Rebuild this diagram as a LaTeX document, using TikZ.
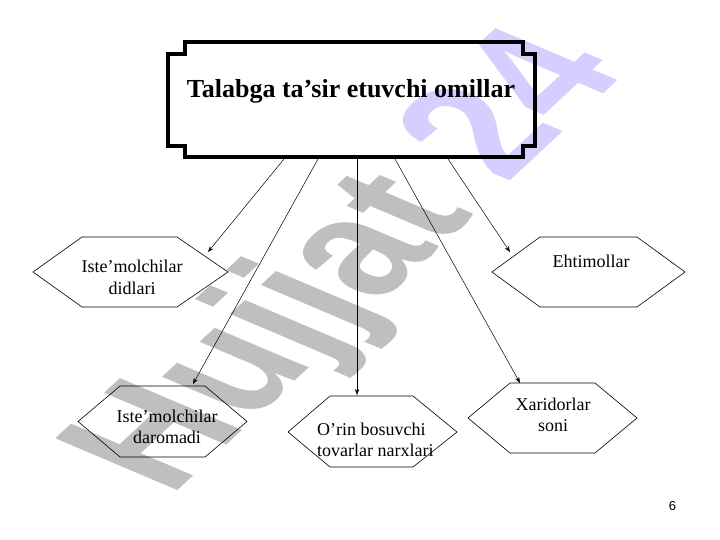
\documentclass[tikz,border=0pt]{standalone}
\usepackage{fontspec}
\setmainfont{Liberation Serif}
\newfontfamily\wmfont{Liberation Sans}
\usetikzlibrary{arrows.meta}
\definecolor{wmgray}{RGB}{191,191,191}
\definecolor{wmlav}{RGB}{214,206,255}
\begin{document}
\begin{tikzpicture}[x=1pt,y=-1pt,
  hexa/.style={draw=black, line width=0.6pt, line join=miter},
  arr/.style={draw=black, line width=0.5pt, -{Stealth[length=6pt,width=4.5pt]}},
  lbl/.style={font=\fontsize{18}{21}\selectfont, align=center, inner sep=0pt, anchor=base},
  plaque/.style={draw=black, line width=3.5pt, line join=miter}]
\useasboundingbox (0,0) rectangle (720,540);
% watermark
\begin{scope}[cm={1.1,1.025,-1.777,0.754,(170pt,-498pt)}]
  \node[transform shape, anchor=base west, inner sep=0pt,
        font=\wmfont\bfseries\fontsize{100}{100}\selectfont] (wm) at (0,0)
        {\textcolor{wmgray}{Hujjat} \textcolor{wmlav}{24}};
\end{scope}
% title plaque
\draw[plaque] (185,42) -- (523,42) -- (523,54) -- (535,54) -- (535,146) -- (523,146)
  -- (523,157) -- (185,157) -- (185,146) -- (168,146) -- (168,54) -- (185,54) -- cycle;
\node[font=\bfseries\fontsize{26}{30}\selectfont, anchor=base, inner sep=0pt] (title) at (351,98)
  {Talabga ta’sir etuvchi omillar};
% hexagons
\draw[hexa] (33,272) -- (82,237) -- (177,237) -- (228,272) -- (177,307) -- (82,307) -- cycle;
\draw[hexa] (492,272) -- (540,237) -- (637,237) -- (685,272) -- (637,307) -- (540,307) -- cycle;
\draw[hexa] (78,421.5) -- (120,386) -- (205,386) -- (247,421.5) -- (205,457) -- (120,457) -- cycle;
\draw[hexa] (288,432) -- (330,396) -- (413,396) -- (457,432) -- (413,467) -- (330,467) -- cycle;
\draw[hexa] (468,418) -- (510,383) -- (595,383) -- (637,418) -- (595,453) -- (510,453) -- cycle;
% labels (base = last line)
\node[lbl] (n1) at (132,294) {Iste’molchilar\\didlari};
\node[lbl] (n2) at (591,267) {Ehtimollar};
\node[lbl] (n3) at (167,443) {Iste’molchilar\\daromadi};
\node[lbl, align=left, anchor=base west] (n4) at (317,456) {O’rin bosuvchi\\tovarlar narxlari};
\node[lbl] (n5) at (553,431) {Xaridorlar\\soni};
\node[font=\wmfont\fontsize{13}{15}\selectfont, anchor=base, inner sep=0pt] (pg) at (672.5,510) {6};
% connectors
\coordinate (s1) at (284,159); \coordinate (e1) at (208,252);
\coordinate (s2) at (318,159); \coordinate (e2) at (193,384);
\coordinate (s3) at (357,159); \coordinate (e3) at (357,395);
\coordinate (s4) at (395,159); \coordinate (e4) at (520,383);
\coordinate (s5) at (448,159); \coordinate (e5) at (510,252);
\draw[arr] (s1) -- (e1);
\draw[arr] (s2) -- (e2);
\draw[arr] (s3) -- (e3);
\draw[arr] (s4) -- (e4);
\draw[arr] (s5) -- (e5);
\end{tikzpicture}
\end{document}
